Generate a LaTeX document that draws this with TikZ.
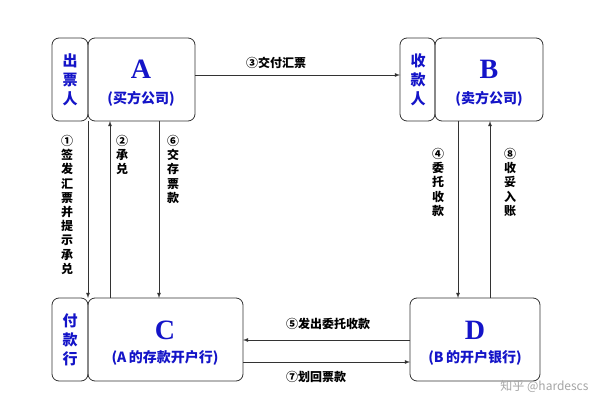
\documentclass[tikz,border=0pt]{standalone}
\usepackage{fontspec}
\newfontfamily\cjk{Noto Sans CJK SC}[BoldFont={Noto Sans CJK SC Black}]
\setmainfont{Liberation Serif}
\definecolor{bl}{RGB}{20,20,200}
\begin{document}
\begin{tikzpicture}[x=1pt,y=-1pt,
  box/.style={draw=black!80,thick,rounded corners=7pt},
  side/.style={font=\cjk\bfseries\fontsize{15}{19}\selectfont,text=bl,align=center,inner sep=0},
  big/.style={font=\bfseries\fontsize{28}{28}\selectfont,text=bl,inner sep=0},
  sub/.style={font=\cjk\bfseries\fontsize{14}{15}\selectfont,text=bl,inner sep=0},
  lab/.style={font=\cjk\bfseries\fontsize{12}{14.2}\selectfont,align=center,inner sep=0},
  arr/.style={->,>=latex,thick,black!80}]
\useasboundingbox (0,0) rectangle (605,409);
\fill[white] (0,0) rectangle (605,409);
% boxes
\draw[box] (52,38) rectangle (88,121);
\draw[box] (88,38) rectangle (195,121);
\draw[box] (400,38) rectangle (435,121);
\draw[box] (435,38) rectangle (543,121);
\draw[box] (52,298) rectangle (88,381);
\draw[box] (88,298) rectangle (243,381);
\draw[box] (410,298) rectangle (540,381);
\node[side] (sa) at (70,80) {出\\票\\人};
\node[side] (sb) at (418,80) {收\\款\\人};
\node[side] (sc) at (70,340) {付\\款\\行};
\node[big] (A) at (141,69) {A};
\node[sub] (a2) at (141,99) {(买方公司)};
\node[big] (B) at (489,69) {B};
\node[sub] (b2) at (489,99) {(卖方公司)};
\node[big] (C) at (165,330) {C};
\node[sub] (c2) at (165,358) {(A\,的存款开户行)};
\node[big] (D) at (475,330) {D};
\node[sub] (d2) at (475,358) {(B\,的开户银行)};
% coordinates
\coordinate (a3) at (195,75); \coordinate (b3) at (400,75);
\coordinate (a1) at (88,121); \coordinate (c1) at (88,298);
\coordinate (a2t) at (110,121); \coordinate (c2b) at (110,298);
\coordinate (a6) at (159,121); \coordinate (c6) at (159,298);
\coordinate (b4) at (458,121); \coordinate (d4) at (458,298);
\coordinate (b8) at (490,121); \coordinate (d8) at (490,298);
\coordinate (d5) at (410,340); \coordinate (c5) at (243,340);
\coordinate (c7) at (243,362); \coordinate (d7) at (410,362);
\draw[arr] (a3) -- (b3);
\draw[arr] (a1) -- (c1);
\draw[arr] (c2b) -- (a2t);
\draw[arr] (a6) -- (c6);
\draw[arr] (b4) -- (d4);
\draw[arr] (d8) -- (b8);
\draw[arr] (d5) -- (c5);
\draw[arr] (c7) -- (d7);
\node[lab,anchor=north] (l1) at (67,135) {①\\签\\发\\汇\\票\\并\\提\\示\\承\\兑};
\node[lab,anchor=north] (l2) at (122,135) {②\\承\\兑};
\node[lab,anchor=north] (l6) at (173,135) {⑥\\交\\存\\票\\款};
\node[lab,anchor=north] (l4) at (438,148) {④\\委\\托\\收\\款};
\node[lab,anchor=north] (l8) at (510,148) {⑧\\收\\妥\\入\\账};
\node[lab] (l3) at (276,63) {③交付汇票};
\node[lab] (l5) at (328,324) {⑤发出委托收款};
\node[lab] (l7) at (316,377) {⑦划回票款};
\node[font=\cjk\fontsize{12}{12}\selectfont,text=black!35,anchor=east] (wm) at (592,386) {知乎 @hardescs};
\end{tikzpicture}
\end{document}
